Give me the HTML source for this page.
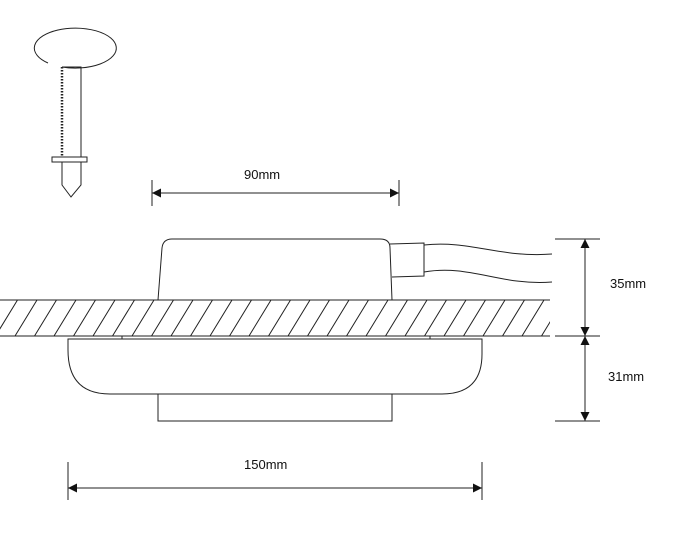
<!DOCTYPE html>
<html><head><meta charset="utf-8"><style>
html,body{margin:0;padding:0;background:#fff;}
svg{display:block;}
text{font-family:"Liberation Sans",sans-serif;font-size:13px;fill:#111;}
</style></head><body>
<svg width="674" height="534" viewBox="0 0 674 534" xmlns="http://www.w3.org/2000/svg">
<defs>
<marker id="a" viewBox="0 0 10 10" refX="10" refY="5" markerWidth="12" markerHeight="9" markerUnits="userSpaceOnUse" orient="auto-start-reverse"><path d="M0,0 L10,5 L0,10 z" fill="#111"/></marker>
<clipPath id="c"><rect x="0" y="300" width="550" height="36"/></clipPath>
</defs>
<g fill="none" stroke="#222" stroke-width="1">
<!-- screw -->
<path d="M48,63 A41,20 0 1 1 62,67"/>
<path d="M62,67 L81,67 L81,157"/>
<path d="M62,67 L62,157" stroke-dasharray="1.5,1.5" stroke-width="2.5"/>
<rect x="52" y="157" width="35" height="5"/>
<path d="M62,162 L62,185 L71,197 L81,185 L81,162"/>
<!-- 90mm dim -->
<line x1="152" y1="180" x2="152" y2="206"/>
<line x1="399" y1="180" x2="399" y2="206"/>
<line x1="152" y1="193" x2="399" y2="193" marker-start="url(#a)" marker-end="url(#a)"/>
<!-- box -->
<path d="M158,300 L162,248 Q163,239 172,239 L380,239 Q390,239 390,248 L392,300"/>
<path d="M390,244 L424,243 L424,276 L392,277"/>
<path d="M424,245 C470,240 500,258 552,254"/>
<path d="M424,272 C470,264 500,286 552,282"/>
<!-- hatch -->
<line x1="0" y1="300" x2="550" y2="300"/>
<line x1="0" y1="336" x2="550" y2="336"/>
<g clip-path="url(#c)">
<path d="M-2,300 l-22,36 M17.5,300 l-22,36 M37,300 l-22,36 M56.5,300 l-22,36 M76,300 l-22,36 M95.5,300 l-22,36 M115,300 l-22,36 M134.5,300 l-22,36 M154,300 l-22,36 M173.5,300 l-22,36 M193,300 l-22,36 M212.5,300 l-22,36 M232,300 l-22,36 M251.5,300 l-22,36 M271,300 l-22,36 M290.5,300 l-22,36 M310,300 l-22,36 M329.5,300 l-22,36 M349,300 l-22,36 M368.5,300 l-22,36 M388,300 l-22,36 M407.5,300 l-22,36 M427,300 l-22,36 M446.5,300 l-22,36 M466,300 l-22,36 M485.5,300 l-22,36 M505,300 l-22,36 M524.5,300 l-22,36 M544,300 l-22,36 M563.5,300 l-22,36"/>
</g>
<line x1="122" y1="336" x2="122" y2="339"/>
<line x1="430" y1="336" x2="430" y2="339"/>
<!-- bezel -->
<path d="M68,339 L482,339 L482,354 Q482,394 442,394 L110,394 Q68,394 68,350 Z"/>
<rect x="158" y="394" width="234" height="27"/>
<!-- vertical dims -->
<line x1="555" y1="239" x2="600" y2="239"/>
<line x1="555" y1="336" x2="600" y2="336"/>
<line x1="555" y1="421" x2="600" y2="421"/>
<line x1="585" y1="239" x2="585" y2="336" marker-start="url(#a)" marker-end="url(#a)"/>
<line x1="585" y1="336" x2="585" y2="421" marker-start="url(#a)" marker-end="url(#a)"/>
<!-- 150mm -->
<line x1="68" y1="462" x2="68" y2="500"/>
<line x1="482" y1="462" x2="482" y2="500"/>
<line x1="68" y1="488" x2="482" y2="488" marker-start="url(#a)" marker-end="url(#a)"/>
</g>
<text x="244" y="179">90mm</text>
<text x="610" y="288">35mm</text>
<text x="608" y="381">31mm</text>
<text x="244" y="469">150mm</text>
</svg>
</body></html>
